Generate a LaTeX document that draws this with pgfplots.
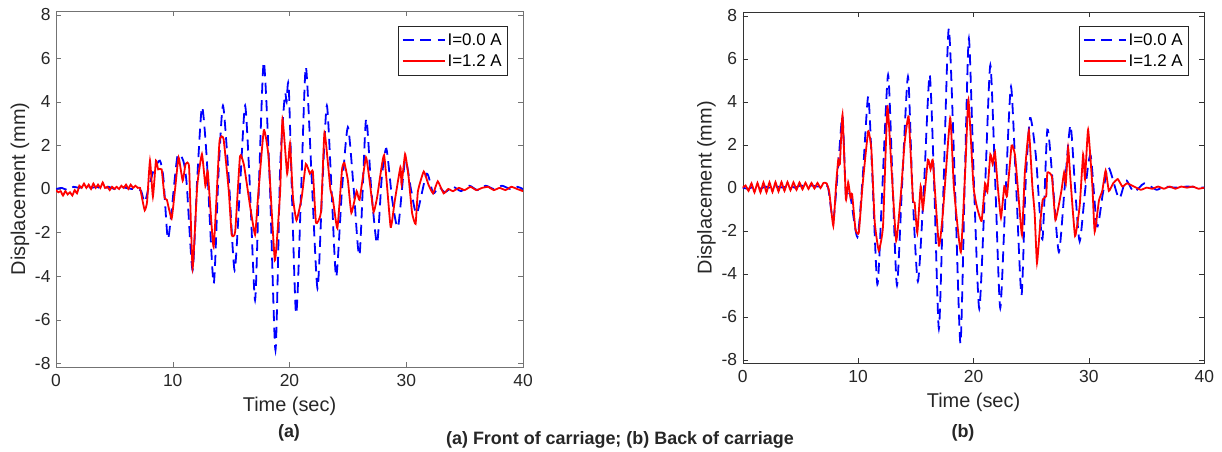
\documentclass[border=0pt]{standalone}
\usepackage{pgfplots}
\pgfplotsset{compat=1.18}
\usepackage{fontspec}
\setmainfont{Liberation Sans}
\definecolor{mblue}{RGB}{0,0,255}
\definecolor{mred}{RGB}{255,0,0}
\definecolor{tickc}{RGB}{38,38,38}
\pgfplotsset{
  myax/.style={
    scale only axis,
    xmin=0, xmax=40, ymin=-8.17, ymax=8.17,
    xtick={0,10,20,30,40}, ytick={-8,-6,-4,-2,0,2,4,6,8},
    tick align=inside, major tick length=5bp,
    /pgf/number format/assume math mode=true,
    tick label style={font=\fontsize{17.5}{17.5}\selectfont, text=tickc},
    xticklabel style={yshift=-4bp},
    yticklabel style={xshift=-2bp},
    label style={font=\fontsize{20}{20}\selectfont, text=tickc},
    xlabel={Time (sec)}, ylabel={Displacement (mm)},
    xlabel style={yshift=-3bp},
    ylabel style={yshift=-1bp},
    legend style={font=\fontsize{17}{17}\selectfont, draw=black!85, line width=0.6bp,
      fill=white, cells={anchor=west}, inner xsep=4bp, inner ysep=5bp, row sep=4bp,
      legend cell align=left},
    legend image code/.code={\draw[#1] (0bp,0bp) -- (42bp,0bp);},
  },
  bl/.style={color=mblue, line width=1.8bp, dash pattern=on 11bp off 6.5bp, smooth, tension=0.4},
  rd/.style={color=mred, line width=1.8bp, smooth, tension=0.25},
}
\begin{document}
\begin{tikzpicture}
\useasboundingbox (0bp,0bp) rectangle (1222bp,452bp);
% ---------------- (a) Front of carriage
\begin{axis}[myax, at={(56bp,85bp)}, anchor=south west, width=467bp, height=356bp,
  axis line style={black!55}, tick style={black!55},
  legend style={at={(axis description cs:0.968,0.958)}, anchor=north east}]
\addplot[bl] coordinates {
(0,0) (0.5,0.05) (1,-0.05) (1.5,0.1) (2,0.05) (2.5,0.15) (3,0.05) (3.5,0.1) (4,0.0) (4.5,0.1) (5,0.0) (5.5,0.1) (6,0.05) (6.5,0.0) (7,0.0) (7.3,-0.1) (7.6,-0.6) (8.0,0.2) (8.4,0.9) (8.9,1.3) (9.2,0.5) (9.57,-2.28) (9.9,-1.0) (10.4,1.5) (10.9,1.3) (11.2,0.2) (11.7,-3.73) (12.1,0.5) (12.5,3.76) (12.9,1.5) (13.5,-4.34) (13.9,0.5) (14.3,3.83) (14.8,0.5) (15.3,-3.73) (15.8,0.5) (16.2,3.83) (16.6,0.2) (17.05,-5.1) (17.4,0.5) (17.8,5.83) (18.3,0.5) (18.8,-7.4) (19.2,1.0) (19.6,4.3) (19.75,4.0) (19.95,4.5) (20.55,-5.7) (21.0,0) (21.4,5.6) (21.9,0.5) (22.4,-4.57) (22.8,0) (23.2,3.83) (23.6,0) (24.0,-4.04) (24.5,0) (25.0,2.84) (25.5,0) (26.0,-3.04) (26.55,3.18) (27.0,0) (27.5,-2.5) (27.9,0.5) (28.3,1.85) (28.8,-0.5) (29.3,-1.74) (29.9,1.3) (30.4,0) (30.9,-1.13) (31.75,0.7) (32.3,-0.2) (32.8,0.1) (33.3,-0.15) (34,0.1) (34.7,-0.1) (35.4,0.15) (36.1,-0.05) (36.8,0.15) (37.5,0.0) (38.2,0.15) (38.9,0.0) (39.5,0.1) (40,0.0)
};
\addlegendentry{I=0.0 A}
\addplot[rd] coordinates {
(0,-0.05) (0.2,-0.15) (0.4,-0.1) (0.6,-0.3) (0.8,-0.1) (1.0,-0.25) (1.2,-0.15) (1.4,-0.3) (1.6,-0.05) (1.8,-0.2) (2.0,0.15) (2.2,0.05) (2.4,0.25) (2.6,0.05) (2.8,0.2) (3.0,0.0) (3.2,0.25) (3.4,0.05) (3.6,0.2) (3.8,0.05) (4.0,0.3) (4.2,0.05) (4.4,0.1) (4.6,-0.05) (4.8,0.1) (5.0,0.0) (5.2,0.1) (5.4,0.0) (5.6,0.15) (5.8,0.05) (6.0,0.2) (6.2,0.0) (6.4,0.2) (6.6,0.05) (6.8,0.15) (7.0,0.05) (7.2,0.05) (7.4,-0.5) (7.6,-0.98) (7.8,-0.6) (8.05,1.3) (8.3,-0.35) (8.56,1.3) (8.75,0.9) (9.05,0.9) (9.3,-0.4) (9.5,-0.5) (9.9,-1.36) (10.2,0) (10.5,1.45) (10.85,0.38) (11.1,1.15) (11.4,1.0) (11.7,-3.65) (12.1,0.17) (12.5,1.6) (12.8,0.13) (13.0,0.8) (13.5,-2.66) (14.0,2.16) (14.35,2.3) (14.8,-0.1) (15.05,-2.1) (15.35,-1.95) (15.76,1.5) (16.1,1.1) (16.6,-0.7) (17.05,-2.1) (17.3,-0.4) (17.8,2.7) (18.2,1.5) (18.75,-3.27) (19.2,-0.1) (19.4,3.23) (19.8,0.7) (20.04,2.1) (20.3,-0.4) (20.6,-1.44) (21.04,-0.4) (21.4,1.15) (21.75,0.7) (22.0,0.8) (22.27,-1.55) (22.7,-1.05) (23.0,2.6) (23.5,0.0) (23.7,-0.4) (24.1,-1.8) (24.5,0.9) (24.7,1.2) (25.0,0.4) (25.3,-1.1) (25.75,-0.1) (26.0,-0.5) (26.55,1.45) (26.9,0.2) (27.2,-1.05) (27.5,-0.4) (28.1,1.55) (28.66,-1.74) (29.0,-0.6) (29.5,1.0) (29.6,0.2) (29.9,1.6) (30.2,0.55) (30.5,-1.1) (30.8,-1.6) (31.0,-0.1) (31.5,0.8) (31.9,0.2) (32.3,-0.2) (32.7,0.35) (33.2,-0.2) (33.6,0.0) (34.0,-0.1) (34.5,0.05) (35.0,-0.05) (35.5,0.1) (36.0,-0.05) (36.5,0.05) (37.0,0.1) (37.5,-0.05) (38.0,0.05) (38.5,-0.05) (39.0,0.1) (39.5,0.0) (40.0,-0.1)
};
\addlegendentry{I=1.2 A}
\end{axis}
% ---------------- (b) Back of carriage
\begin{axis}[myax, at={(742.7bp,88.7bp)}, anchor=south west, width=461.6bp, height=351.3bp,
  axis line style={black!80}, tick style={black!80},
  legend style={at={(axis description cs:0.967,0.960)}, anchor=north east}]
\addplot[bl] coordinates {
(0,0) (0.5,-0.05) (1,0.05) (1.5,-0.05) (2,0.05) (2.5,-0.05) (3,0.05) (3.5,0.0) (4,0.1) (4.5,0.0) (5,0.1) (5.5,0.05) (6,0.1) (6.5,0.05) (7,0.1) (7.4,0) (7.85,-1.5) (8.3,1.2) (8.65,3.3) (8.95,-0.4) (9.3,-0.3) (9.94,-2.3) (10.4,0.5) (10.87,4.24) (11.2,1.0) (11.67,-4.5) (12.1,0) (12.6,5.25) (13.0,0) (13.37,-4.55) (13.8,0) (14.32,5.17) (14.7,0) (15.18,-4.36) (15.7,0) (16.2,5.25) (16.6,0) (17.0,-6.56) (17.4,0) (17.86,7.4) (18.4,0) (18.87,-7.25) (19.25,0.5) (19.6,6.94) (20.05,0) (20.5,-5.63) (21.0,0) (21.46,5.7) (21.9,0) (22.32,-5.6) (22.8,0) (23.25,4.7) (23.7,0) (24.16,-5.0) (24.5,0) (24.9,3.24) (25.4,1.5) (25.97,-2.4) (26.4,2.7) (26.9,0) (27.4,-3.0) (27.9,0) (28.4,2.9) (28.8,0) (29.2,-2.5) (29.7,0) (30.15,1.5) (30.7,-1.8) (31.2,-0.3) (31.7,0.95) (32.6,-0.5) (33.2,0.35) (33.9,-0.2) (34.8,0.2) (35.85,-0.1) (36.5,0.05) (37.5,0.0) (38.5,0.05) (40,0.0)
};
\addlegendentry{I=0.0 A}
\addplot[rd] coordinates {
(0,0) (0.25,0.1) (0.5,-0.15) (0.76,0.2) (1.02,-0.22) (1.28,0.22) (1.54,-0.22) (1.8,0.24) (2.06,-0.22) (2.32,0.25) (2.58,-0.2) (2.84,0.26) (3.1,-0.18) (3.36,0.26) (3.62,-0.15) (3.88,0.26) (4.14,-0.12) (4.4,0.25) (4.66,-0.1) (4.92,0.24) (5.18,-0.08) (5.44,0.23) (5.7,-0.06) (5.96,0.22) (6.22,-0.04) (6.48,0.22) (6.74,-0.02) (7.0,0.22) (7.27,0.2) (7.5,-0.2) (7.85,-1.78) (8.1,0.2) (8.28,1.3) (8.42,1.1) (8.65,3.39) (8.94,-0.53) (9.14,0.25) (9.34,-0.46) (9.48,-0.3) (9.77,-1.93) (10.06,-2.1) (10.38,0.07) (10.87,2.62) (11.15,1.77) (11.44,-1.6) (11.79,-2.93) (12.16,-1.78) (12.54,3.78) (12.88,1.0) (13.3,-2.47) (13.69,-0.4) (14.03,2.08) (14.38,3.3) (14.75,-0.53) (14.9,-0.7) (15.13,-2.1) (15.42,0.07) (15.62,-1.0) (16.05,1.3) (16.28,0.85) (16.48,1.24) (17.0,-2.7) (17.35,-1.15) (17.98,3.24) (18.3,0) (18.9,-3.0) (19.3,1.0) (19.56,4.1) (20.0,0.05) (20.3,-0.9) (20.7,-1.55) (21.0,0.2) (21.2,-0.2) (21.46,1.55) (21.66,1.1) (21.86,1.65) (22.1,0.07) (22.38,-1.4) (22.67,0.07) (22.9,-0.4) (23.3,1.96) (23.6,1.5) (23.9,-0.4) (24.2,-2.2) (24.45,0.7) (24.8,2.65) (25.1,0.07) (25.3,-1.2) (25.5,-3.5) (25.8,-1.55) (26.0,-0.55) (26.3,-0.4) (26.4,0.7) (26.8,0.5) (27.1,-1.5) (27.6,-0.2) (27.85,0.7) (28.0,0.2) (28.2,1.85) (28.4,0.4) (28.8,-2.25) (29.2,-0.85) (29.5,1.55) (29.66,0.4) (29.93,2.7) (30.3,0.07) (30.5,-2.05) (30.87,-0.6) (31.16,-0.15) (31.45,0.8) (31.73,-0.15) (32.1,0.2) (32.5,0.4) (32.9,0.05) (33.3,0.2) (33.9,0.05) (34.5,-0.1) (35,0.0) (35.5,-0.05) (36,0.05) (36.5,-0.05) (37,0.05) (37.5,-0.05) (38,0.05) (38.5,0.0) (39,0.05) (39.5,-0.05) (40,0.0)
};
\addlegendentry{I=1.2 A}
\end{axis}
\node[font=\fontsize{18}{18}\selectfont\bfseries, text=tickc] at (289bp,19bp) {(a)};
\node[font=\fontsize{18}{18}\selectfont\bfseries, text=tickc] at (963bp,19bp) {(b)};
\node[font=\fontsize{18}{18}\selectfont\bfseries, text=tickc] at (620bp,12bp) {(a) Front of carriage; (b) Back of carriage};
\end{tikzpicture}
\end{document}
